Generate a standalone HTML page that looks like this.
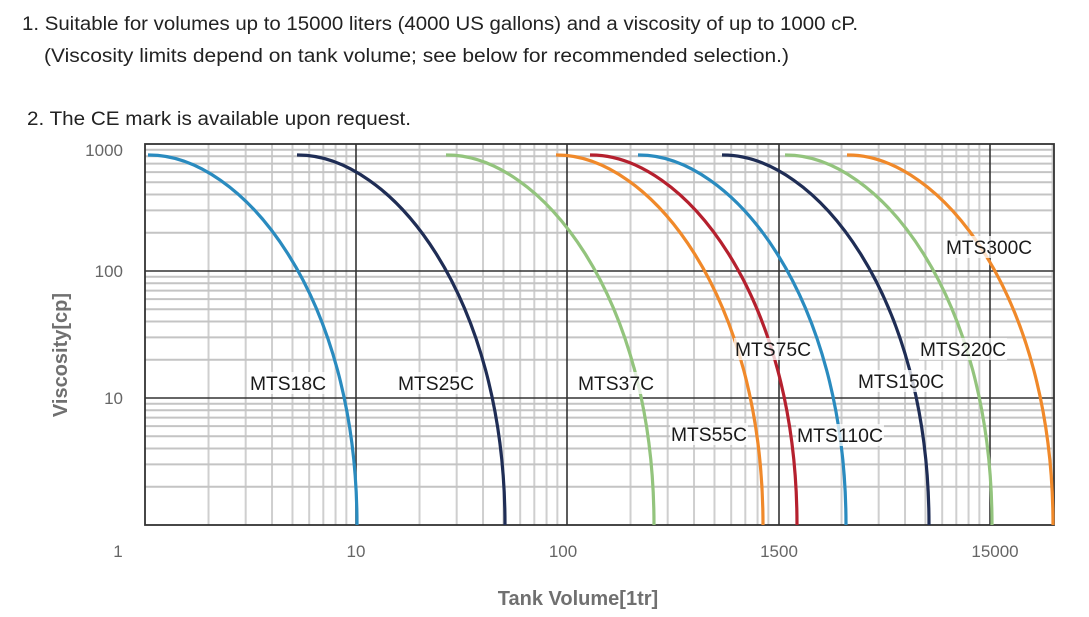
<!DOCTYPE html>
<html><head><meta charset="utf-8"><style>
html,body{margin:0;padding:0;background:#fff;}
svg{display:block;font-family:"Liberation Sans",sans-serif;}
</style></head><body>
<svg id="s" width="1089" height="617" viewBox="0 0 1089 617" xmlns="http://www.w3.org/2000/svg">
<text x="22" y="30" font-size="19" fill="#222" textLength="836" lengthAdjust="spacingAndGlyphs">1. Suitable for volumes up to 15000 liters (4000 US gallons) and a viscosity of up to 1000 cP.</text>
<text x="44" y="62" font-size="19" fill="#222" textLength="745" lengthAdjust="spacingAndGlyphs">(Viscosity limits depend on tank volume; see below for recommended selection.)</text>
<text x="27" y="125" font-size="19" fill="#222" textLength="384" lengthAdjust="spacingAndGlyphs">2.  The CE mark is available upon request.</text>
<g id="grid"></g>
<g id="curves"></g>
<g id="labels"></g>
<g font-size="17" fill="#666">
<text x="123" y="156" text-anchor="end">1000</text>
<text x="123" y="277" text-anchor="end">100</text>
<text x="123" y="404" text-anchor="end">10</text>
<text x="118" y="557" text-anchor="middle">1</text>
<text x="356" y="557" text-anchor="middle">10</text>
<text x="563" y="557" text-anchor="middle">100</text>
<text x="779" y="557" text-anchor="middle">1500</text>
<text x="995" y="557" text-anchor="middle">15000</text>
</g>
<text x="578" y="605" font-size="20" font-weight="bold" fill="#707070" text-anchor="middle">Tank Volume[1tr]</text>
<text transform="translate(67,355) rotate(-90)" font-size="20" font-weight="bold" fill="#707070" text-anchor="middle">Viscosity[cp]</text>
</svg>
<script>
var NS="http://www.w3.org/2000/svg";
function el(p,t,a){var e=document.createElementNS(NS,t);for(var k in a)e.setAttribute(k,a[k]);p.appendChild(e);return e;}
var g=document.getElementById('grid');
var L=145,R=1054,T=144,B=525,DX=211,DY=127;
for(var d=0;d<5;d++){for(var k=2;k<10;k++){var x=L+DX*(d+Math.log10(k));if(x<R)el(g,'line',{x1:x,x2:x,y1:T,y2:B,stroke:'#cfcfcf','stroke-width':2});}}
for(var d=0;d<3;d++){for(var k=2;k<10;k++){var y=B-DY*(d+Math.log10(k));el(g,'line',{x1:L,x2:R,y1:y,y2:y,stroke:'#c4c4c4','stroke-width':2});}}
[356,567,779,990].forEach(function(x){el(g,'line',{x1:x,x2:x,y1:T,y2:B,stroke:'#333','stroke-width':1.6});});
[271,398].forEach(function(y){el(g,'line',{x1:L,x2:R,y1:y,y2:y,stroke:'#333','stroke-width':1.6});});
el(g,'rect',{x:L,y:T,width:R-L,height:B-T,fill:'none',stroke:'#333','stroke-width':1.8});
var c=document.getElementById('curves');
var cs=[[148,357,'#2a8bbf'],[297,505,'#1f2d55'],[446,654,'#93c47d'],[556,763,'#f0892a'],[590,797,'#b5202e'],[638,846,'#2a8bbf'],[722,929,'#1f2d55'],[785,992,'#93c47d'],[847,1053,'#f0892a']];
cs.forEach(function(a){var x0=a[0],x1=a[1],y0=155,y1=525,w=x1-x0,h=y1-y0;
el(c,'path',{d:'M'+x0+' '+y0+' C'+(x0+0.45*w)+' '+(y0-1)+' '+x1+' '+(y1-0.62*h)+' '+x1+' '+y1,fill:'none',stroke:a[2],'stroke-width':3.2});});
var lb=document.getElementById('labels');
[['MTS18C',250,390],['MTS25C',398,390],['MTS37C',578,390],['MTS55C',671,441],['MTS75C',735,356],['MTS110C',797,442],['MTS150C',858,388],['MTS220C',920,356],['MTS300C',946,254]].forEach(function(a){
var w=a[0].length>6?88:78;
el(lb,'rect',{x:a[1]-1,y:a[2]-18,width:w,height:22,fill:'#fff','fill-opacity':0.75});
var t=el(lb,'text',{x:a[1],y:a[2],'font-size':19,fill:'#1a1a1a',textLength:w-2,lengthAdjust:'spacingAndGlyphs'});t.textContent=a[0];});
</script>
</body></html>
